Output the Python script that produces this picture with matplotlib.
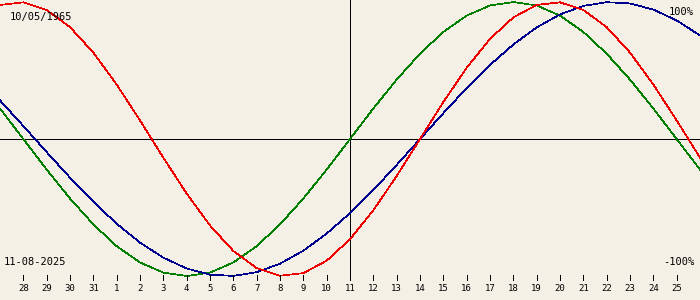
import matplotlib
matplotlib.use("Agg")
import matplotlib.pyplot as plt

# Biorhythm chart data (day offset from 11-08-2025, values in %)
days = list(range(-15, 16))
physical = [97.9, 99.8, 94.2, 81.7, 63.1, 39.8, 13.6, -13.6, -39.8, -63.1, -81.7,
            -94.2, -99.8, -97.9, -88.8, -73.1, -52.0, -27.0, 0.0, 27.0, 52.0, 73.1,
            88.8, 97.9, 99.8, 94.2, 81.7, 63.1, 39.8, 13.6, -13.6]
emotional = [22.3, 0.0, -22.3, -43.4, -62.3, -78.2, -90.1, -97.5, -100.0, -97.5, -90.1,
             -78.2, -62.3, -43.4, -22.3, 0.0, 22.3, 43.4, 62.3, 78.2, 90.1, 97.5,
             100.0, 97.5, 90.1, 78.2, 62.3, 43.4, 22.3, 0.0, -22.3]
intellectual = [28.2, 9.5, -9.5, -28.2, -45.8, -61.8, -75.6, -86.6, -94.5, -99.0, -99.9,
                -97.2, -91.0, -81.5, -69.0, -54.1, -37.2, -18.9, 0.0, 18.9, 37.2, 54.1,
                69.0, 81.5, 91.0, 97.2, 99.9, 99.0, 94.5, 86.6, 75.6]
tick_days = list(range(-14, 15))
tick_labels = ["28", "29", "30", "31"] + [str(i) for i in range(1, 26)]
birth_label = "10/05/1965"
date_label = "11-08-2025"

bg = "#F4F0E6"
fig = plt.figure(figsize=(7, 3), dpi=100, facecolor=bg)
ax = fig.add_axes([0, 0, 1, 1], facecolor=bg)
ax.set_xlim(-15, 15)
ax.set_ylim(-117.5, 101.5)
ax.axis("off")

lw = 0.5
ax.axhline(0, color="black", lw=lw, antialiased=False)
ax.vlines(0, -103, 101.5, color="black", lw=lw, antialiased=False)

ax.plot(days, emotional, color="#008000", lw=lw, antialiased=False)
ax.plot(days, intellectual, color="#000090", lw=lw, antialiased=False)
ax.plot(days, physical, color="#F00000", lw=lw, antialiased=False)

ax.vlines(tick_days, -102.9, -99.3, color="black", lw=lw, antialiased=False)
for d, lab in zip(tick_days, tick_labels):
    ax.text(d, -108.8, lab, ha="center", va="center", fontsize=6.5,
            family="DejaVu Sans Mono", color="black")

mono = dict(family="DejaVu Sans Mono", fontsize=7.5, color="black", va="center")
fig.text(10 / 700, 1 - 17 / 300, birth_label, ha="left", **mono)
fig.text(694 / 700, 1 - 12 / 300, "100%", ha="right", **mono)
fig.text(4 / 700, 1 - 262 / 300, date_label, ha="left", **mono)
fig.text(694 / 700, 1 - 262 / 300, "-100%", ha="right", **mono)

fig.savefig("out.png", dpi=100, facecolor=bg)
